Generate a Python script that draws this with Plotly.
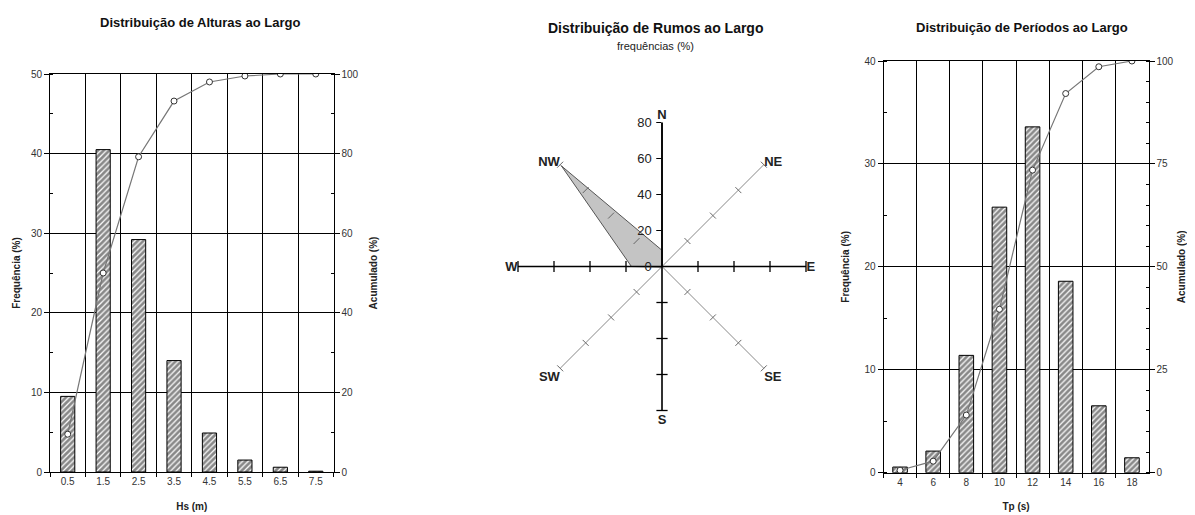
import plotly.graph_objects as go

# ---------------- data ----------------
hs_labels = ["0.5", "1.5", "2.5", "3.5", "4.5", "5.5", "6.5", "7.5"]
hs_freq = [9.5, 40.5, 29.2, 14.0, 4.9, 1.5, 0.6, 0.1]
hs_cum = [9.5, 50.0, 79.2, 93.2, 98.0, 99.5, 100.0, 100.0]

tp_labels = ["4", "6", "8", "10", "12", "14", "16", "18"]
tp_freq = [0.55, 2.1, 11.4, 25.8, 33.6, 18.6, 6.5, 1.45]
tp_cum = [0.6, 2.8, 14.0, 39.7, 73.5, 92.1, 98.6, 100.0]

directions = ["N", "NE", "E", "SE", "S", "SW", "W", "NW"]
dir_freq = [9, 0, 0, 0, 0, 0.5, 17, 79]
radial_ticks = [0, 20, 40, 60, 80]

FONT = "Liberation Sans, Arial, sans-serif"
tickfont = dict(family=FONT, size=10, color="#333")
axtitlefont = dict(family=FONT, size=10, color="#222", weight="bold")

hatch = dict(shape="/", fgcolor="#111", bgcolor="white", size=4, solidity=0.7)

fig = go.Figure()

# ---------------- left: heights ----------------
fig.add_trace(go.Bar(
    x=hs_labels, y=hs_freq, xaxis="x", yaxis="y", width=0.4,
    marker=dict(color="white", line=dict(color="black", width=1), pattern=hatch),
    showlegend=False))
fig.add_trace(go.Scatter(
    x=hs_labels, y=hs_cum, xaxis="x", yaxis="y2", mode="lines+markers",
    line=dict(color="#777", width=1.2),
    marker=dict(symbol="circle", size=6, color="white", line=dict(color="#333", width=1)),
    showlegend=False))

# ---------------- right: periods ----------------
fig.add_trace(go.Bar(
    x=tp_labels, y=tp_freq, xaxis="x3", yaxis="y3", width=0.44,
    marker=dict(color="white", line=dict(color="black", width=1), pattern=hatch),
    showlegend=False))
fig.add_trace(go.Scatter(
    x=tp_labels, y=tp_cum, xaxis="x3", yaxis="y4", mode="lines+markers",
    line=dict(color="#777", width=1.2),
    marker=dict(symbol="circle", size=6, color="white", line=dict(color="#333", width=1)),
    showlegend=False))

# ---------------- middle: radar ----------------
rmax = radial_ticks[-1]
fig.add_trace(go.Scatterpolar(
    r=dir_freq + [dir_freq[0]], theta=directions + [directions[0]],
    mode="lines", fill="toself", fillcolor="#c4c4c4",
    line=dict(color="#555", width=1), subplot="polar", showlegend=False))

# black main spokes W-E and N-S
fig.add_trace(go.Scatterpolar(
    r=[rmax, 0, rmax], theta=["W", "W", "E"], mode="lines",
    line=dict(color="black", width=1.5), subplot="polar", showlegend=False))
fig.add_trace(go.Scatterpolar(
    r=[rmax, 0, rmax], theta=["N", "N", "S"], mode="lines",
    line=dict(color="black", width=1.5), subplot="polar", showlegend=False))

# tick marks along spokes
main_r, main_t, main_a = [], [], []
diag_r, diag_t, diag_a = [], [], []
for i, d in enumerate(directions):
    if d == "N":
        continue
    for rv in radial_ticks[1:]:
        if d in ("E", "S", "W"):
            main_r.append(rv); main_t.append(d); main_a.append(i * 45)
        else:
            diag_r.append(rv); diag_t.append(d); diag_a.append(i * 45)
fig.add_trace(go.Scatterpolar(
    r=main_r, theta=main_t, mode="markers", subplot="polar", showlegend=False,
    marker=dict(symbol="line-ew", size=8, angle=main_a, line=dict(color="black", width=1.3))))
fig.add_trace(go.Scatterpolar(
    r=diag_r, theta=diag_t, mode="markers", subplot="polar", showlegend=False,
    marker=dict(symbol="line-ew", size=6, angle=diag_a, line=dict(color="#666", width=1))))

W, H = 1195, 515
OFF = 8  # page body margin in the browser


def px_x(a, b):
    return [(a - OFF) / W, (b - OFF) / W]


def px_y(top, bottom):
    return [(H - (bottom - OFF)) / H, (H - (top - OFF)) / H]


def ax(x):
    return (x - OFF) / W


def ay(y):
    return (H - (y - OFF)) / H


common_x = dict(type="category", range=[-0.5, 7.5], automargin=False,
                tickson="boundaries", showgrid=True, gridcolor="black", gridwidth=1,
                ticks="outside", ticklen=4, tickcolor="black",
                showline=True, linecolor="black", linewidth=1, mirror=True, tickfont=tickfont)
common_y = dict(automargin=False, showgrid=True, gridcolor="black", gridwidth=1, zeroline=False,
                ticks="outside", ticklen=5, tickcolor="black",
                showline=True, linecolor="black", linewidth=1, tickfont=tickfont)
common_y2 = dict(automargin=False, side="right", showgrid=False, zeroline=False,
                 ticks="outside", ticklen=5, tickcolor="black",
                 showline=True, linecolor="black", linewidth=1, tickfont=tickfont)

fig.update_layout(
    width=W, height=H,
    margin=dict(l=0, r=0, t=0, b=0, autoexpand=False),
    paper_bgcolor="white", plot_bgcolor="white",
    font=dict(family=FONT, color="#222"),
    # left chart
    xaxis=dict(domain=px_x(50, 333.5), anchor="y",
               title=dict(text="Hs (m)", font=axtitlefont, standoff=16), **common_x),
    yaxis=dict(domain=px_y(74, 472), anchor="x", range=[0, 50], dtick=10,
               minor=dict(dtick=5, ticks="inside", ticklen=3, tickcolor="black", showgrid=False),
               title=dict(text="Frequência (%)", font=axtitlefont, standoff=8), **common_y),
    yaxis2=dict(overlaying="y", anchor="x", range=[0, 100], dtick=20,
                minor=dict(dtick=10, ticks="inside", ticklen=3, tickcolor="black"),
                title=dict(text="Acumulado (%)", font=axtitlefont, standoff=12), **common_y2),
    # right chart
    xaxis3=dict(domain=px_x(883.5, 1148.5), anchor="y3",
                title=dict(text="Tp (s)", font=axtitlefont, standoff=16), **common_x),
    yaxis3=dict(domain=px_y(61, 472.7), anchor="x3", range=[0, 40], dtick=10,
                minor=dict(dtick=5, ticks="inside", ticklen=3, tickcolor="black", showgrid=False),
                title=dict(text="Frequência (%)", font=axtitlefont, standoff=12), **common_y),
    yaxis4=dict(overlaying="y3", anchor="x3", range=[0, 100], dtick=25,
                minor=dict(dtick=5, ticks="inside", ticklen=3, tickcolor="black"),
                title=dict(text="Acumulado (%)", font=axtitlefont, standoff=5), **common_y2),
    # radar
    polar=dict(
        domain=dict(x=px_x(662 - 144, 662 + 144), y=px_y(266.5 - 144, 266.5 + 144)),
        bgcolor="white",
        radialaxis=dict(range=[0, rmax], angle=90, tickvals=radial_ticks, tickangle=90,
                        showgrid=False, showline=True, linecolor="black", linewidth=1.5,
                        ticks="outside", ticklen=5, tickcolor="black", side="counterclockwise",
                        tickfont=dict(family=FONT, size=13, color="#222"), layer="above traces"),
        angularaxis=dict(type="category", categoryarray=directions, direction="clockwise",
                         rotation=90, showline=False, showgrid=True, gridcolor="#888", gridwidth=1,
                         ticks="", layer="above traces",
                         tickfont=dict(family=FONT, size=13, color="#222", weight="bold")),
    ),
    annotations=[
        dict(text="<b>Distribuição de Alturas ao Largo</b>", x=ax(200), y=ay(22),
             xref="paper", yref="paper", showarrow=False, xanchor="center", yanchor="middle",
             font=dict(family=FONT, size=13, color="#111")),
        dict(text="<b>Distribuição de Rumos ao Largo</b>", x=ax(655), y=ay(28),
             xref="paper", yref="paper", showarrow=False, xanchor="center", yanchor="middle",
             font=dict(family=FONT, size=14, color="#111")),
        dict(text="frequências (%)", x=ax(655), y=ay(46),
             xref="paper", yref="paper", showarrow=False, xanchor="center", yanchor="middle",
             font=dict(family=FONT, size=11, color="#222")),
        dict(text="<b>Distribuição de Períodos ao Largo</b>", x=ax(1022), y=ay(28),
             xref="paper", yref="paper", showarrow=False, xanchor="center", yanchor="middle",
             font=dict(family=FONT, size=13, color="#111")),
    ],
)

fig.write_html("out.html")
